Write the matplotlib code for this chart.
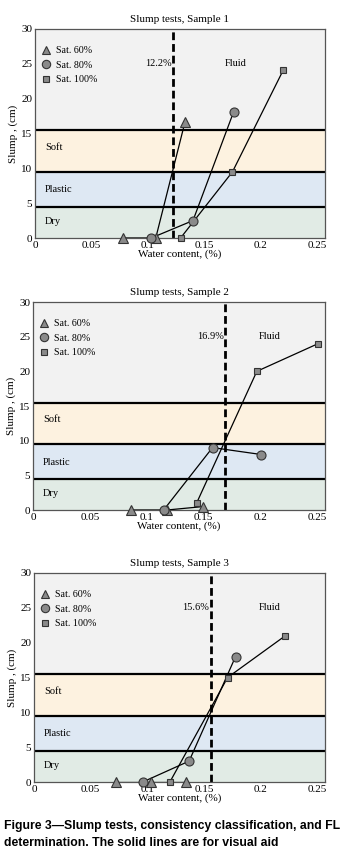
import matplotlib
matplotlib.use("Agg")
import matplotlib.pyplot as plt
from matplotlib.lines import Line2D

plt.rcParams['font.family'] = ['Liberation Serif', 'DejaVu Serif']

# ---- data ----
titles = ["Slump tests, Sample 1", "Slump tests, Sample 2", "Slump tests, Sample 3"]
fl_values = [0.122, 0.169, 0.156]
fl_labels = ["12.2%", "16.9%", "15.6%"]
series_labels = ["Sat. 60%", "Sat. 80%", "Sat. 100%"]

s1_sat60_x = [0.078, 0.107, 0.133]
s1_sat60_y = [0, 0, 16.7]
s1_sat80_x = [0.103, 0.140, 0.176]
s1_sat80_y = [0, 2.5, 18.1]
s1_sat100_x = [0.129, 0.175, 0.220]
s1_sat100_y = [0, 9.5, 24.1]

s2_sat60_x = [0.086, 0.118, 0.150]
s2_sat60_y = [0, 0, 0.5]
s2_sat80_x = [0.115, 0.158, 0.201]
s2_sat80_y = [0, 9.0, 8.0]
s2_sat100_x = [0.144, 0.197, 0.251]
s2_sat100_y = [1.0, 20.0, 24.0]

s3_sat60_x = [0.072, 0.103, 0.134]
s3_sat60_y = [0, 0, 0]
s3_sat80_x = [0.096, 0.137, 0.178]
s3_sat80_y = [0, 3.0, 18.0]
s3_sat100_x = [0.120, 0.171, 0.222]
s3_sat100_y = [0, 15.0, 21.0]

band_names = ["Dry", "Plastic", "Soft", "Fluid"]
band_edges = [0, 4.5, 9.5, 15.5, 30]
band_colors = ["#e1ebe5", "#dee8f3", "#fdf2e0", "#f2f2f2"]
band_label_y = [2.4, 6.9, 13.0]

xticks = [0, 0.05, 0.1, 0.15, 0.2, 0.25]
xtick_labels = ["0", "0.05", "0.1", "0.15", "0.2", "0.25"]
yticks = [0, 5, 10, 15, 20, 25, 30]

samples = [
    [(s1_sat60_x, s1_sat60_y), (s1_sat80_x, s1_sat80_y), (s1_sat100_x, s1_sat100_y)],
    [(s2_sat60_x, s2_sat60_y), (s2_sat80_x, s2_sat80_y), (s2_sat100_x, s2_sat100_y)],
    [(s3_sat60_x, s3_sat60_y), (s3_sat80_x, s3_sat80_y), (s3_sat100_x, s3_sat100_y)],
]
fluid_x = [0.178, 0.208, 0.208]

markers = ["^", "o", "s"]
msizes = [6.5, 6.5, 5]

W, H = 342, 857
fig = plt.figure(figsize=(W / 100, H / 100), dpi=100)

# axes boxes in pixels: left, right, top, bottom
boxes = [(35, 325, 29, 238), (33, 325, 302, 510), (34, 325, 573, 782)]

for i, (l, r, t, b) in enumerate(boxes):
    ax = fig.add_axes([l / W, 1 - b / H, (r - l) / W, (b - t) / H])
    ax.set_xlim(0, 0.257)
    ax.set_ylim(0, 30)
    for k in range(4):
        ax.axhspan(band_edges[k], band_edges[k + 1], color=band_colors[k], zorder=0, lw=0)
    for e in band_edges[1:4]:
        ax.axhline(e, color="black", lw=1.6, zorder=1)
    for k in range(3):
        ax.text(0.009, band_label_y[k], band_names[k], fontsize=7.5, ha="left", va="center")
    ax.text(fluid_x[i], 25, "Fluid", fontsize=7.5, ha="center", va="center")
    ax.axvline(fl_values[i], color="black", lw=2, ls=(0, (2.8, 1.4)), zorder=2)
    ax.text(fl_values[i] - 0.001, 25, fl_labels[i], fontsize=7.5, ha="right", va="center")

    for j, (xs, ys) in enumerate(samples[i]):
        ax.plot(xs, ys, color="black", lw=0.9, zorder=3)
        ax.plot(xs, ys, ls="none", marker=markers[j], ms=msizes[j],
                mfc="#8a8a8a", mec="#333333", mew=0.8, zorder=4, clip_on=False)

    handles = [Line2D([], [], ls="none", marker=markers[j], ms=msizes[j] - 0.5,
                      mfc="#8a8a8a", mec="#333333", mew=0.8) for j in range(3)]
    ax.legend(handles, series_labels, loc="upper left", frameon=False,
              fontsize=7.2, handlelength=0.8, handletextpad=0.6, labelspacing=0.55,
              borderaxespad=0.3, bbox_to_anchor=(0.0, 0.95))

    ax.set_xticks(xticks)
    ax.set_xticklabels(xtick_labels)
    ax.set_yticks(yticks)
    ax.tick_params(length=0, labelsize=8, pad=2)
    for sp in ax.spines.values():
        sp.set_color("#555555")
        sp.set_linewidth(0.9)
    ax.set_title(titles[i], fontsize=8, pad=5)
    ax.set_xlabel("Water content, (%)", fontsize=8, labelpad=0)
    ax.set_ylabel("Slump , (cm)", fontsize=8, labelpad=2)

fig.text(4 / W, 1 - 826 / H, "Figure 3\u2014Slump tests, consistency classification, and FL",
         family=["Liberation Sans", "DejaVu Sans"], weight="bold", fontsize=8.8,
         ha="left", va="center")
fig.text(4 / W, 1 - 843 / H, "determination. The solid lines are for visual aid",
         family=["Liberation Sans", "DejaVu Sans"], weight="bold", fontsize=8.8,
         ha="left", va="center")

fig.savefig("out.png", dpi=100)
